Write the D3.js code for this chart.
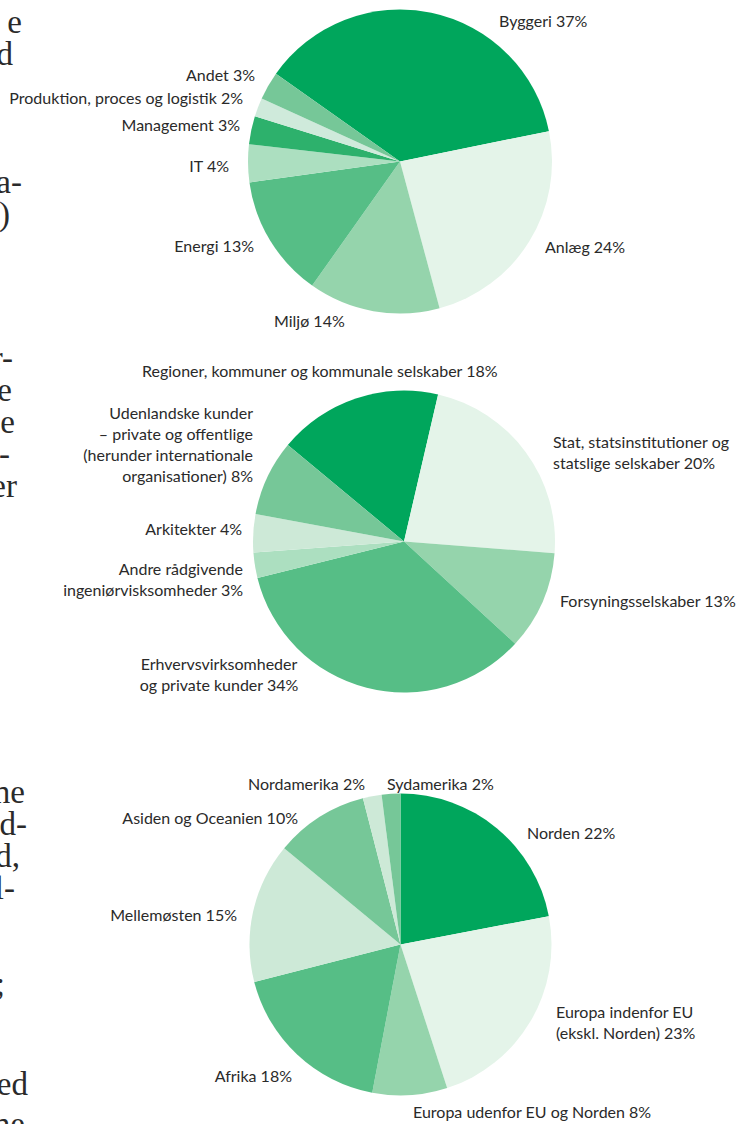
<!DOCTYPE html>
<html>
<head>
<meta charset="utf-8">
<script src="https://cdn.jsdelivr.net/npm/d3@7"></script>
<style>
    body { margin: 0; background: #fff; }
    svg { display: block; }
    .lbl { font-family: Lato, "Noto Sans", sans-serif; font-size: 16px; fill: #2a2a2a; }
    .body-frag { font-family: "Liberation Serif", "DejaVu Serif", serif; font-size: 33px; fill: #2a2a2a; }
</style>
</head>
<body>
<div id="chart"></div>
<script>
var fagCategories = ["Byggeri", "Anlæg", "Miljø", "Energi", "IT", "Management", "Produktion, proces og logistik", "Andet"];
var fagShares = [37, 24, 14, 13, 4, 3, 2, 3];
var fagLabels = [["Byggeri 37%"], ["Anlæg 24%"], ["Miljø 14%"], ["Energi 13%"], ["IT 4%"], ["Management 3%"], ["Produktion, proces og logistik 2%"], ["Andet 3%"]];
var fagColors = ["#00a65c", "#e4f4e9", "#95d4ac", "#56be86", "#acdfc0", "#2db16c", "#cfeadb", "#76c798"];

var kundeCategories = ["Regioner", "Stat", "Forsyning", "Erhverv", "Andre rådgivende", "Arkitekter", "Udenlandske kunder"];
var kundeShares = [17.6, 22.6, 10.6, 34.3, 2.7, 4.1, 8.1];
var kundeLabels = [
    ["Regioner, kommuner og kommunale selskaber 18%"],
    ["Stat, statsinstitutioner og", "statslige selskaber 20%"],
    ["Forsyningsselskaber 13%"],
    ["Erhvervsvirksomheder", "og private kunder 34%"],
    ["Andre rådgivende", "ingeniørvisksomheder 3%"],
    ["Arkitekter 4%"],
    ["Udenlandske kunder", "– private og offentlige", "(herunder internationale", "organisationer) 8%"]
];
var kundeColors = ["#00a65c", "#e4f4e9", "#95d4ac", "#56be86", "#acdfc0", "#cde9d7", "#76c798"];

var markedCategories = ["Norden", "Europa indenfor EU", "Europa udenfor EU og Norden", "Afrika", "Mellemøsten", "Asiden og Oceanien", "Nordamerika", "Sydamerika"];
var markedShares = [22, 23, 8, 18, 15, 10, 2, 2];
var markedLabels = [["Norden 22%"], ["Europa indenfor EU", "(ekskl. Norden) 23%"], ["Europa udenfor EU og Norden 8%"], ["Afrika 18%"], ["Mellemøsten 15%"], ["Asiden og Oceanien 10%"], ["Nordamerika 2%"], ["Sydamerika 2%"]];
var markedColors = ["#00a65c", "#e4f4e9", "#95d4ac", "#56be86", "#cde9d7", "#76c798", "#cde9d7", "#76c798"];

// where each label sits: [x, first baseline, anchor]
var fagLabelPos = [[499, 27, "start"], [545, 253, "start"], [274, 327, "start"], [254, 252, "end"], [229, 172, "end"], [240, 131, "end"], [243, 104, "end"], [255, 81, "end"]];
var kundeLabelPos = [[142, 377, "start"], [553, 448, "start"], [560, 607, "start"], [219, 670, "middle"], [243, 575, "end"], [242, 535, "end"], [253, 419, "end"]];
var markedLabelPos = [[527, 839, "start"], [556, 1018, "start"], [413, 1118, "start"], [292, 1082, "end"], [237, 921, "end"], [298, 824, "end"], [248, 790, "start"], [387, 790, "start"]];

// bits of the running text that got cut by the page edge
var fragTexts = ["e", "d", "a-", ")", "r-", "e", "e", "i-", "er", "ne", "ed-", "d,", "l-", ";", "ned", "ne"];
var fragRight = [22, 13, 22, 10, 13, 12, 15, 10, 17, 25, 27, 20, 15, 5, 28, 25];
var fragBase = [33, 65, 193, 225, 369, 401, 433, 465, 497, 803, 835, 867, 899, 995, 1095, 1135];

var width = 741, height = 1124;
var lineGap = 21;

var svg = d3.select("#chart")
    .append("svg")
    .attr("width", width)
    .attr("height", height);

function build_pie(svg, cx, cy, r, startDeg, shares, colors, labels, labelPos) {
    var start = startDeg * Math.PI / 180;
    var pie = d3.pie()
        .sort(null)
        .value(d => d)
        .startAngle(start)
        .endAngle(start + 2 * Math.PI);

    var arc = d3.arc()
        .innerRadius(0)
        .outerRadius(r);

    var g = svg.append("g")
        .attr("transform", `translate(${cx},${cy})`);

    g.selectAll("path")
        .data(pie(shares))
        .enter()
        .append("path")
        .attr("d", arc)
        .attr("fill", (d, i) => colors[i]);

    // labels, multi line ones get one tspan per line
    labels.forEach(function(lines, i) {
        var p = labelPos[i];
        var t = svg.append("text")
            .attr("class", "lbl")
            .attr("text-anchor", p[2]);
        lines.forEach(function(line, j) {
            t.append("tspan")
                .attr("x", p[0])
                .attr("y", p[1] + j * lineGap)
                .text(line);
        });
    });
}

build_pie(svg, 400, 161.5, 152, -54.7, fagShares, fagColors, fagLabels, fagLabelPos);
build_pie(svg, 404, 541.5, 151, -50.3, kundeShares, kundeColors, kundeLabels, kundeLabelPos);
build_pie(svg, 400.5, 944.5, 151, 0, markedShares, markedColors, markedLabels, markedLabelPos);

svg.selectAll(".body-frag")
    .data(fragTexts)
    .enter()
    .append("text")
    .attr("class", "body-frag")
    .attr("text-anchor", "end")
    .attr("x", (d, i) => fragRight[i])
    .attr("y", (d, i) => fragBase[i])
    .text(d => d);
</script>
</body>
</html>
